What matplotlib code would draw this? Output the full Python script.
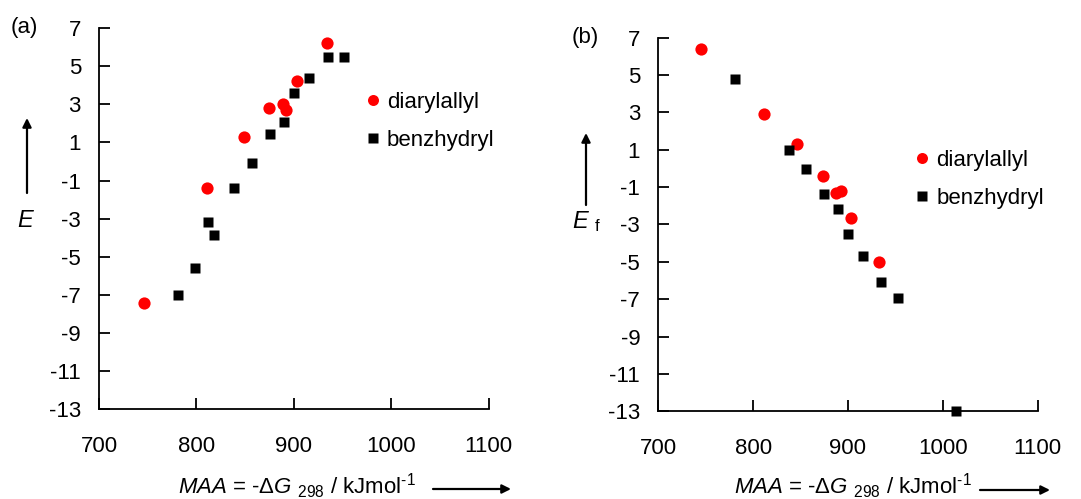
import matplotlib
matplotlib.use("Agg")
import matplotlib.pyplot as plt

plt.rcParams['font.family'] = ['Liberation Sans', 'DejaVu Sans']
plt.rcParams['mathtext.fontset'] = 'custom'
plt.rcParams['mathtext.rm'] = 'Liberation Sans'
plt.rcParams['mathtext.it'] = 'Liberation Sans:italic'

# (a) E vs MAA
a_allyl_maa = [745.8, 810.9, 848.5, 874.9, 888.6, 892.0, 903.3, 933.8]
a_allyl_e = [-7.42, -1.41, 1.30, 2.78, 3.00, 2.70, 4.22, 6.23]
a_benz_maa = [780.7, 798.6, 811.9, 817.7, 838.9, 857.1, 875.2, 889.9, 900.5, 915.9, 935.4, 951.5]
a_benz_e = [-7.02, -5.61, -3.17, -3.87, -1.41, -0.07, 1.45, 2.07, 3.57, 4.39, 5.48, 5.48]

# (b) Ef vs MAA
b_allyl_maa = [744.7, 811.1, 846.6, 874.0, 887.4, 892.6, 902.8, 933.0]
b_allyl_ef = [6.40, 2.92, 1.29, -0.40, -1.30, -1.21, -2.64, -5.02]
b_benz_maa = [780.9, 838.1, 856.0, 874.4, 889.5, 900.0, 916.1, 934.5, 952.4, 1014.2]
b_benz_ef = [4.79, 0.99, -0.03, -1.35, -2.17, -3.52, -4.70, -6.06, -6.93, -12.97]

xticks = [700, 800, 900, 1000, 1100]
yticks = [7, 5, 3, 1, -1, -3, -5, -7, -9, -11, -13]

W, H = 1081, 499
FS = 16
fig = plt.figure(figsize=(W / 100, H / 100), dpi=100)


def px_axes(x0, y0, x1, y1):
    # axes box given in pixel coords measured from top-left
    return fig.add_axes([x0 / W, 1 - y1 / H, (x1 - x0) / W, (y1 - y0) / H])


def arrow(x0, y0, x1, y1):
    fig.add_artist(matplotlib.patches.FancyArrowPatch(
        (x0 / W, 1 - y0 / H), (x1 / W, 1 - y1 / H), transform=fig.transFigure,
        arrowstyle='-|>', mutation_scale=13, lw=1.6, color='black', shrinkA=0, shrinkB=0))


def setup(ax):
    ax.set_xlim(700, 1100)
    ax.set_ylim(-13, 7)
    ax.set_xticks(xticks)
    ax.set_yticks(yticks)
    ax.set_yticklabels([str(t) for t in yticks])
    for s in ['top', 'right']:
        ax.spines[s].set_visible(False)
    for s in ['left', 'bottom']:
        ax.spines[s].set_linewidth(1.3)
    ax.tick_params(axis='both', direction='in', length=8, width=1.3, labelsize=FS)
    ax.tick_params(axis='x', pad=19)
    ax.tick_params(axis='y', pad=13)
    ax.patch.set_alpha(0)


def legend(ax, x, y):
    ax.legend(loc='center left', bbox_to_anchor=(x, y), frameon=False, fontsize=FS,
              handlelength=0.6, handletextpad=0.35, labelspacing=0.77, markerscale=0.9,
              borderaxespad=0, borderpad=0)


xlabel = r"$MAA$ = -$\mathit{ΔG}$ $_{298}$ / kJmol$^{\text{-1}}$"

# panel (a)
ax1 = px_axes(99, 28, 488.7, 409.3)
setup(ax1)
ax1.plot(a_allyl_maa, a_allyl_e, 'o', color='#ff0000', ms=8.8, mec='none', label='diarylallyl', clip_on=False)
ax1.plot(a_benz_maa, a_benz_e, 's', color='black', ms=7.8, mec='none', label='benzhydryl', clip_on=False)
legend(ax1, 0.685, 0.755)
fig.text(11 / W, 1 - 28 / H, '(a)', fontsize=FS, va='center', ha='left')
fig.text(26 / W, 1 - 221 / H, '$E$', fontsize=FS + 1, va='center', ha='center')
arrow(27, 193, 27, 118)
fig.text(297 / W, 1 - 486 / H, xlabel, fontsize=FS, va='center', ha='center')
arrow(433, 489, 511, 489)

# panel (b)
ax2 = px_axes(658.3, 37.7, 1037.7, 411.3)
setup(ax2)
ax2.plot(b_allyl_maa, b_allyl_ef, 'o', color='#ff0000', ms=8.8, mec='none', label='diarylallyl', clip_on=False)
ax2.plot(b_benz_maa, b_benz_ef, 's', color='black', ms=7.8, mec='none', label='benzhydryl', clip_on=False)
legend(ax2, 0.677, 0.620)
fig.text(572 / W, 1 - 37 / H, '(b)', fontsize=FS, va='center', ha='left')
fig.text(587 / W, 1 - 222 / H, r'$E$ $_{\mathregular{f}}$', fontsize=FS + 1, va='center', ha='center')
arrow(586, 205, 586, 133)
fig.text(853 / W, 1 - 486 / H, xlabel, fontsize=FS, va='center', ha='center')
arrow(980, 490, 1050, 490)

fig.savefig('out.png', dpi=100)
